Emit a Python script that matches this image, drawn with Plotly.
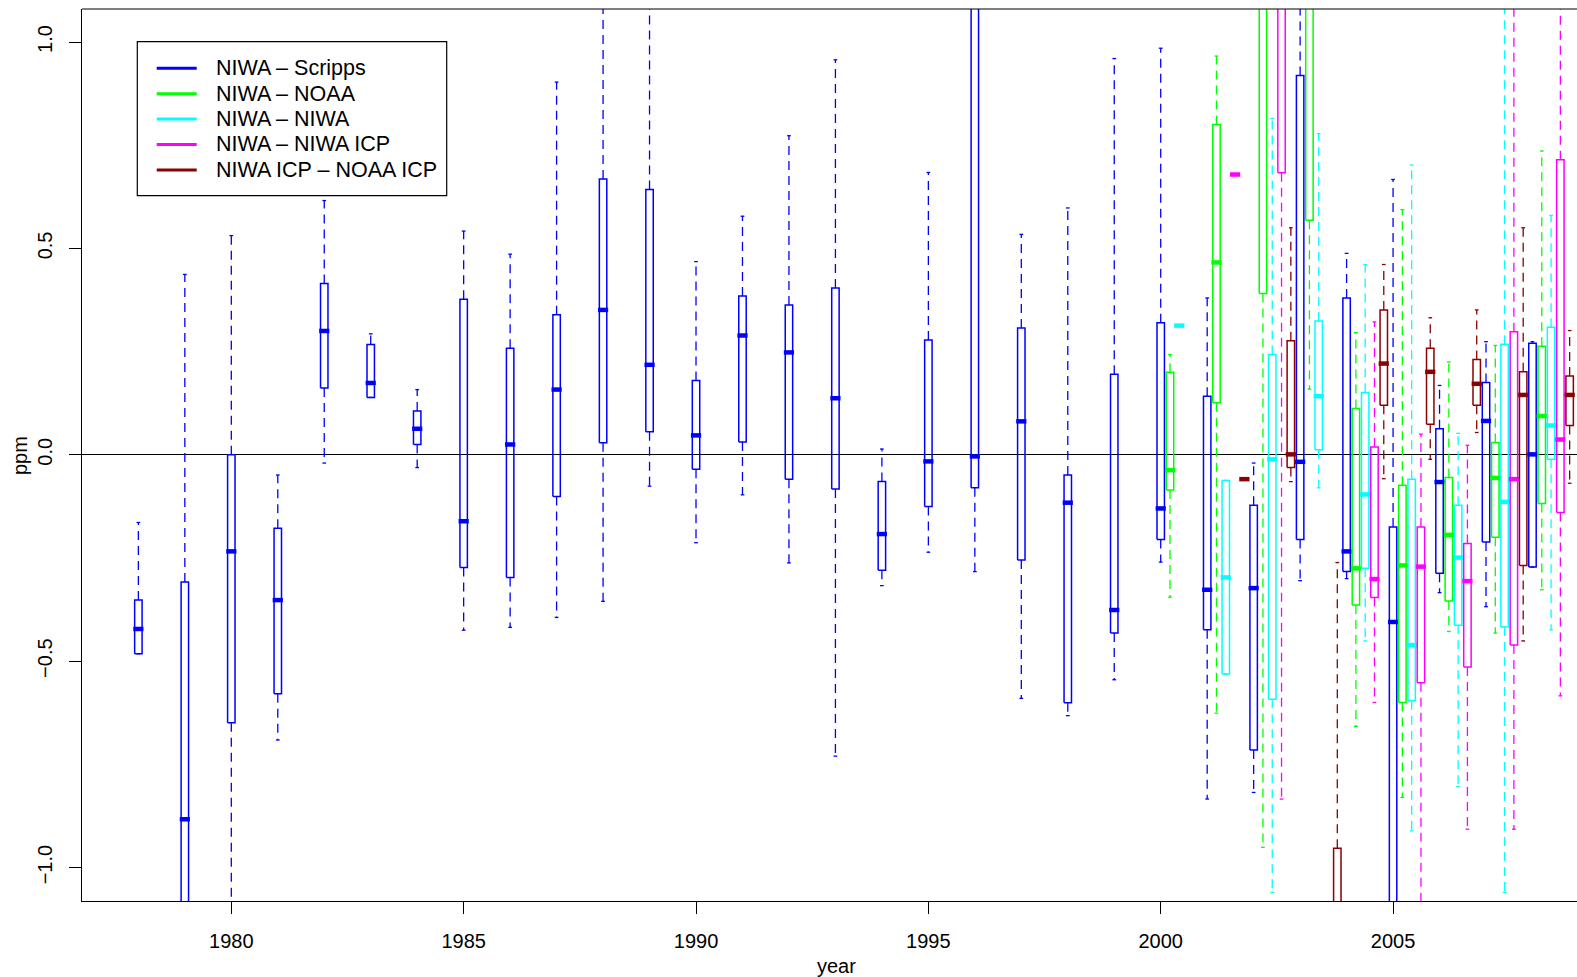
import plotly.graph_objects as go

# ---------------- data (ppm differences, box statistics per year) ----------------
scripps_years = list(range(1978, 2009))
scripps_lo  = [-0.482, -1.50, -1.25, -0.691, -0.020, 0.139, -0.031, -0.425, -0.418, -0.394,
               -0.355, -0.076, -0.213, -0.097, -0.262, -0.730, -0.317, -0.236, -0.283, -0.590,
               -0.632, -0.545, -0.260, -0.834, -0.818, -0.305, -0.300, -1.40, -0.334, -0.368, -0.272]
scripps_q1  = [-0.482, -1.25, -0.649, -0.579, 0.162, 0.139, 0.025, -0.273, -0.297, -0.101,
               0.029, 0.056, -0.035, 0.031, -0.059, -0.083, -0.280, -0.125, -0.080, -0.255,
               -0.601, -0.432, -0.205, -0.424, -0.715, -0.205, -0.283, -1.20, -0.287, -0.211, -0.272]
scripps_med = [-0.422, -0.883, -0.234, -0.352, 0.300, 0.174, 0.063, -0.161, 0.025, 0.158,
               0.351, 0.218, 0.047, 0.289, 0.248, 0.137, -0.192, -0.016, -0.004, 0.081,
               -0.116, -0.376, -0.130, -0.327, -0.323, -0.017, -0.234, -0.405, -0.066, 0.082, 0.001]
scripps_q3  = [-0.352, -0.308, 0.000, -0.178, 0.415, 0.267, 0.106, 0.377, 0.258, 0.339,
               0.668, 0.643, 0.180, 0.385, 0.363, 0.404, -0.065, 0.278, 1.30, 0.307,
               -0.049, 0.195, 0.320, 0.142, -0.122, 0.919, 0.380, -0.175, 0.063, 0.175, 0.270]
scripps_hi  = [-0.164, 0.437, 0.531, -0.049, 0.616, 0.293, 0.158, 0.542, 0.486, 0.903,
               1.25, 1.25, 0.468, 0.578, 0.773, 0.957, 0.014, 0.684, 1.60, 0.534,
               0.598, 0.960, 0.985, 0.380, -0.020, 1.30, 0.488, 0.667, 0.168, 0.274, 0.274]

noaa_years = [2000, 2001, 2002, 2003, 2004, 2005, 2006, 2007, 2008]
noaa_lo  = [-0.345, -0.626, -0.951, 0.159, -0.658, -0.830, -0.428, -0.432, -0.327]
noaa_q1  = [-0.085, 0.126, 0.391, 0.568, -0.364, -0.600, -0.354, -0.200, -0.118]
noaa_med = [-0.037, 0.466, 1.20, 1.15, -0.275, -0.268, -0.194, -0.056, 0.094]
noaa_q3  = [0.200, 0.800, 1.35, 1.35, 0.112, -0.074, -0.055, 0.030, 0.263]
noaa_hi  = [0.243, 0.966, 1.60, 1.60, 0.296, 0.594, 0.225, 0.265, 0.736]

niwa_years = [2000, 2001, 2002, 2003, 2004, 2005, 2006, 2007, 2008]
niwa_lo  = [0.313, -0.531, -1.060, -0.080, -0.451, -0.911, -0.804, -1.060, -0.424]
niwa_q1  = [0.313, -0.531, -0.592, 0.012, -0.275, -0.596, -0.413, -0.417, -0.011]
niwa_med = [0.313, -0.297, -0.011, 0.142, -0.096, -0.461, -0.249, -0.114, 0.071]
niwa_q3  = [0.313, -0.062, 0.243, 0.324, 0.151, -0.059, -0.122, 0.268, 0.309]
niwa_hi  = [0.313, -0.062, 0.815, 0.778, 0.461, 0.702, 0.052, 1.25, 0.580]

icp_years = [2001, 2002, 2004, 2005, 2006, 2007, 2008]
icp_lo  = [0.679, -0.834, -0.600, -1.15, -0.907, -0.907, -0.584]
icp_q1  = [0.679, 0.683, -0.346, -0.552, -0.514, -0.461, -0.140]
icp_med = [0.679, 1.10, -0.301, -0.271, -0.306, -0.059, 0.037]
icp_q3  = [0.679, 1.30, 0.019, -0.175, -0.215, 0.298, 0.715]
icp_hi  = [0.679, 1.60, 0.322, 0.050, 0.023, 1.25, 1.25]

icpnoaa_years = [2001, 2002, 2003, 2004, 2005, 2006, 2007, 2008]
icpnoaa_lo  = [-0.059, -0.065, -1.40, -0.058, -0.011, 0.054, -0.451, -0.069]
icpnoaa_q1  = [-0.059, -0.031, -1.20, 0.120, 0.074, 0.120, -0.268, 0.071]
icpnoaa_med = [-0.059, 0.001, -1.10, 0.221, 0.201, 0.172, 0.145, 0.145]
icpnoaa_q3  = [-0.059, 0.276, -0.953, 0.351, 0.258, 0.231, 0.201, 0.191]
icpnoaa_hi  = [-0.059, 0.550, -0.261, 0.461, 0.332, 0.351, 0.550, 0.301]

series_names = ["NIWA \u2013 Scripps", "NIWA \u2013 NOAA", "NIWA \u2013 NIWA",
                "NIWA \u2013 NIWA ICP", "NIWA ICP \u2013 NOAA ICP"]
series_colors = ["#0000FF", "#00FF00", "#00FFFF", "#FF00FF", "#8B0000"]

x_ticks = [1980, 1985, 1990, 1995, 2000, 2005]
y_ticks = [-1.0, -0.5, 0.0, 0.5, 1.0]

series = [
    (scripps_years, scripps_lo, scripps_q1, scripps_med, scripps_q3, scripps_hi),
    (noaa_years, noaa_lo, noaa_q1, noaa_med, noaa_q3, noaa_hi),
    (niwa_years, niwa_lo, niwa_q1, niwa_med, niwa_q3, niwa_hi),
    (icp_years, icp_lo, icp_q1, icp_med, icp_q3, icp_hi),
    (icpnoaa_years, icpnoaa_lo, icpnoaa_q1, icpnoaa_med, icpnoaa_q3, icpnoaa_hi),
]

# ---------------- styling ----------------
SLOT = 0.2       # offset between series within a year
BOX_W = 0.16
STAPLE_W = 0.08
MED_W = 0.22
W, H = 1577, 977
L, R, T, B = 82, 0, 9, 76
FONT = "Liberation Sans, Arial, sans-serif"

fig = go.Figure()

for k, (yrs, lo, q1, md, q3, hi) in enumerate(series):
    c = series_colors[k]
    bx, by, wx, wy, sx, sy, mx, my = [], [], [], [], [], [], [], []
    for yr, a, b1, m, b3, h in zip(yrs, lo, q1, md, q3, hi):
        x = yr + k * SLOT
        l, r = x - BOX_W / 2, x + BOX_W / 2
        bx += [l, r, r, l, l, None]
        by += [b1, b1, b3, b3, b1, None]
        wx += [x, x, None, x, x, None]
        wy += [b3, h, None, b1, a, None]
        sx += [x - STAPLE_W / 2, x + STAPLE_W / 2, None, x - STAPLE_W / 2, x + STAPLE_W / 2, None]
        sy += [h, h, None, a, a, None]
        mx += [x - MED_W / 2, x + MED_W / 2, None]
        my += [m, m, None]
    common = dict(mode="lines", hoverinfo="skip", showlegend=False)
    fig.add_trace(go.Scatter(x=wx, y=wy, line=dict(color=c, width=1.3, dash="9px,6px"), **common))
    fig.add_trace(go.Scatter(x=sx, y=sy, line=dict(color=c, width=1.3), **common))
    fig.add_trace(go.Scatter(x=bx, y=by, line=dict(color=c, width=1.5), **common))
    fig.add_trace(go.Scatter(x=mx, y=my, line=dict(color=c, width=4.5), **common))

# pixel -> paper helpers
pw, ph = W - L - R, H - T - B
def px(x):
    return (x - L) / pw
def py(y):
    return (H - B - y) / ph

shapes = []
# top frame line
shapes.append(dict(type="line", xref="paper", yref="paper", x0=0, x1=1, y0=1, y1=1,
                   line=dict(color="#000000", width=1.2)))
# legend box
shapes.append(dict(type="rect", xref="paper", yref="paper",
                   x0=px(137.3), x1=px(446.7), y0=py(195.7), y1=py(41.7),
                   line=dict(color="#000000", width=1.2), fillcolor="white", layer="above"))
annotations = []
for i, (name, c) in enumerate(zip(series_names, series_colors)):
    yy = 68.3 + i * 25.4
    shapes.append(dict(type="line", xref="paper", yref="paper", x0=px(156.7), x1=px(196.7),
                       y0=py(yy), y1=py(yy), line=dict(color=c, width=3), layer="above"))
    annotations.append(dict(xref="paper", yref="paper", x=px(214), y=py(yy), text=name,
                            showarrow=False, xanchor="left", yanchor="middle",
                            font=dict(family=FONT, size=21.5, color="#000000")))

annotations.append(dict(xref="paper", yref="paper", x=px(836), y=py(966), text="year",
                        showarrow=False, xanchor="center", yanchor="middle",
                        font=dict(family=FONT, size=20, color="#000000")))
annotations.append(dict(xref="paper", yref="paper", x=px(20), y=py(455), text="ppm",
                        showarrow=False, xanchor="center", yanchor="middle", textangle=-90,
                        font=dict(family=FONT, size=20, color="#000000")))

fig.update_layout(
    width=W, height=H,
    margin=dict(l=L, r=R, t=T, b=B, pad=0),
    paper_bgcolor="white", plot_bgcolor="white",
    showlegend=False,
    shapes=shapes, annotations=annotations,
    font=dict(family=FONT, size=20, color="#000000"),
    xaxis=dict(range=[1976.787, 2008.958], tickvals=x_ticks, ticktext=[str(v) for v in x_ticks],
               ticks="outside", ticklen=12, tickwidth=1.2, tickcolor="#000000",
               showline=True, linecolor="#000000", linewidth=1.2, showgrid=False, zeroline=False,
               tickfont=dict(family=FONT, size=20, color="#000000"), ticklabelstandoff=10),
    yaxis=dict(range=[-1.081, 1.080], tickvals=y_ticks,
               ticktext=["\u22121.0", "\u22120.5", "0.0", "0.5", "1.0"],
               ticks="outside", ticklen=12, tickwidth=1.2, tickcolor="#000000", tickangle=-90,
               showline=True, linecolor="#000000", linewidth=1.2, showgrid=False,
               zeroline=True, zerolinecolor="#000000", zerolinewidth=1.3,
               tickfont=dict(family=FONT, size=20, color="#000000"), ticklabelstandoff=9),
)

fig.write_html("out.html", config={"displayModeBar": False},
               post_script="document.body.style.margin='0px';document.body.style.overflow='hidden';")
